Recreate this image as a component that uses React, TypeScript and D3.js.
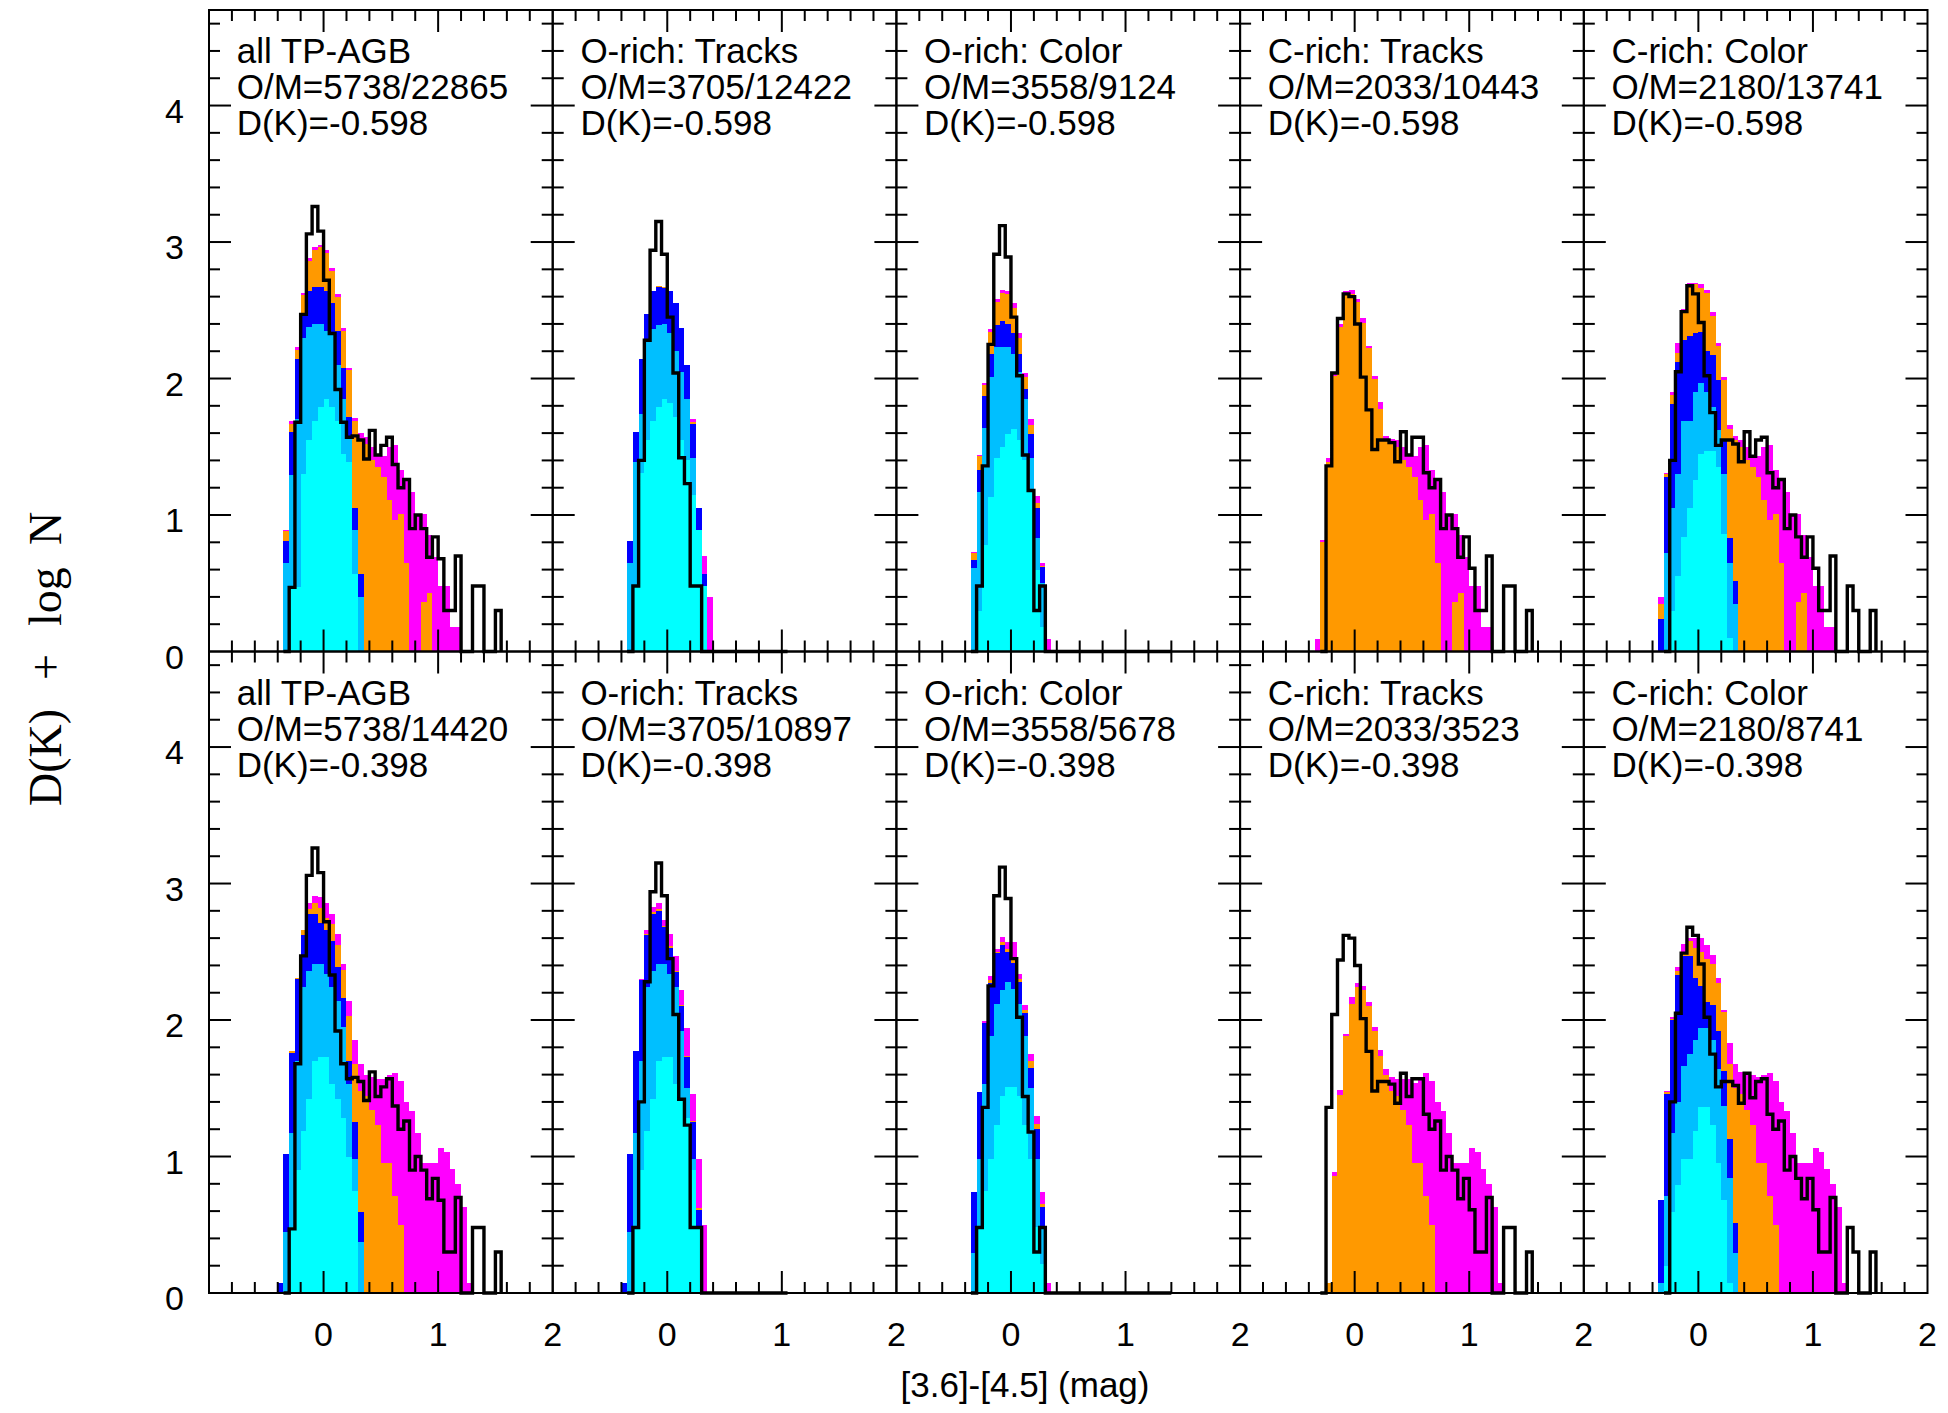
import React from 'react';
import * as d3 from 'd3';

// ---------------- layout ----------------
const W = 1948;
const H = 1413;
const LEFT = 209;
const TOP = 10;
const PW = 343.7;
const PH = 641.5;
const X_DOMAIN: [number, number] = [-1, 2];
const Y_DOMAIN: [number, number] = [0, 4.7];
const BIN = 0.05;
const LAYER_START = -0.4; // left edge of first bin of the coloured layers

// ---------------- text ----------------
const titles = ['all TP-AGB', 'O-rich: Tracks', 'O-rich: Color', 'C-rich: Tracks', 'C-rich: Color'];
const omTop = ['O/M=5738/22865', 'O/M=3705/12422', 'O/M=3558/9124', 'O/M=2033/10443', 'O/M=2180/13741'];
const omBottom = ['O/M=5738/14420', 'O/M=3705/10897', 'O/M=3558/5678', 'O/M=2033/3523', 'O/M=2180/8741'];
const dkTop = 'D(K)=-0.598';
const dkBottom = 'D(K)=-0.398';
const yTickLabels = [0, 1, 2, 3, 4];
const xTickLabels = [0, 1, 2];
const xAxisLabel = '[3.6]-[4.5] (mag)';

// ---------------- observed (black) histograms, one per column ----------------
const obsStart = [-0.35, -0.35, -0.35, -0.3, -0.3];
const obsAll = [0, 0.47, 1.68, 2.47, 3.06, 3.26, 3.08, 2.72, 2.33, 1.92, 1.68, 1.57, 1.58, 1.55, 1.41, 1.62, 1.44, 1.51, 1.57, 1.37, 1.2, 1.26, 0.9, 1.0, 0.9, 0.69, 0.84, 0.68, 0.3, 0.3, 0.7, 0, 0, 0.48, 0.48, 0, 0, 0.3];
const obsOTracks = [0, 0.48, 1.4, 2.28, 2.94, 3.15, 2.91, 2.45, 2.04, 1.42, 1.23, 0.48, 0.48, 0, 0, 0, 0, 0, 0, 0, 0, 0, 0, 0, 0, 0, 0, 0];
const obsOColor = [0, 0.48, 1.36, 2.25, 2.91, 3.12, 2.89, 2.45, 2.02, 1.44, 1.18, 0.3, 0.48, 0, 0, 0, 0, 0, 0, 0, 0, 0, 0, 0, 0, 0, 0, 0, 0, 0, 0, 0, 0, 0, 0];
const obsCTracks = [0, 1.36, 2.04, 2.44, 2.62, 2.6, 2.4, 2.01, 1.77, 1.48, 1.55, 1.55, 1.53, 1.39, 1.61, 1.44, 1.57, 1.57, 1.31, 1.2, 1.26, 0.9, 1.0, 0.9, 0.69, 0.84, 0.61, 0.3, 0.3, 0.7, 0, 0, 0.48, 0.48, 0, 0, 0.3];
const obsCColor = [0, 1.4, 2.05, 2.49, 2.68, 2.62, 2.41, 2.02, 1.75, 1.51, 1.55, 1.55, 1.52, 1.39, 1.61, 1.43, 1.55, 1.57, 1.31, 1.2, 1.26, 0.9, 1.0, 0.84, 0.69, 0.84, 0.61, 0.3, 0.3, 0.7, 0, 0, 0.48, 0.3, 0, 0, 0.3];
const observed = [obsAll, obsOTracks, obsOColor, obsCTracks, obsCColor];

// ---------------- model (coloured, cumulative) histograms ----------------
// top row
const t0Cyan = [0, 0, 0.47, 0.47, 1.3, 1.55, 1.69, 1.79, 1.85, 1.79, 1.69, 1.45, 1.39, 0.57];
const t0LBlue = [0, 0.65, 1.29, 1.7, 2.3, 2.38, 2.4, 2.4, 2.35, 2.33, 2.1, 1.85, 1.57, 0.89, 0.4];
const t0Blue = [0, 0.81, 1.61, 2.14, 2.47, 2.64, 2.67, 2.67, 2.64, 2.55, 2.35, 2.08, 1.72, 1.05, 0.57];
const t0Orange = [0, 0.88, 1.67, 2.21, 2.61, 2.86, 2.94, 2.96, 2.92, 2.79, 2.6, 2.35, 2.06, 1.69, 1.56, 1.52, 1.4, 1.35, 1.28, 1.11, 0.96, 1.01, 0.65, 0, 0, 0.36, 0.43];
const t0Magenta = [0, 0.89, 1.69, 2.23, 2.63, 2.88, 2.96, 2.98, 2.94, 2.81, 2.62, 2.37, 2.08, 1.71, 1.6, 1.57, 1.5, 1.43, 1.43, 1.5, 1.51, 1.33, 1.25, 1.17, 1.01, 1.01, 0.85, 0.69, 0.48, 0.48, 0.18, 0.18];

const t1Cyan = [0, 0, 0.47, 1.31, 1.55, 1.69, 1.79, 1.85, 1.82, 1.72, 1.55, 1.4, 1.15, 0.89, 0.48];
const t1LBlue = [0, 0.65, 1.39, 1.74, 2.28, 2.36, 2.39, 2.4, 2.33, 2.2, 2.05, 1.85, 1.42, 0.87, 0.4];
const t1Blue = [0, 0.81, 1.61, 2.14, 2.47, 2.64, 2.67, 2.66, 2.64, 2.55, 2.37, 2.1, 1.67, 1.05, 0.57];
const t1Orange = [0, 0.81, 1.61, 2.14, 2.47, 2.64, 2.68, 2.67, 2.64, 2.55, 2.37, 2.1, 1.68, 1.05, 0.57];
const t1Magenta = [0, 0.81, 1.61, 2.14, 2.47, 2.64, 2.68, 2.67, 2.64, 2.55, 2.37, 2.1, 1.7, 1.05, 0.7, 0.4];

const t2Cyan = [0, 0, 0.3, 0.78, 1.13, 1.42, 1.5, 1.59, 1.63, 1.55, 1.4, 1.18, 0.6, 0.18];
const t2LBlue = [0, 0.61, 1.17, 1.64, 2.01, 2.23, 2.23, 2.23, 2.18, 2.05, 1.85, 1.42, 0.83, 0.5];
const t2Blue = [0, 0.67, 1.33, 1.87, 2.18, 2.39, 2.42, 2.4, 2.33, 2.18, 1.92, 1.59, 1.05, 0.62];
const t2Orange = [0, 0.72, 1.43, 1.95, 2.34, 2.56, 2.63, 2.62, 2.52, 2.3, 2.01, 1.66, 1.09, 0.63];
const t2Magenta = [0, 0.73, 1.44, 1.97, 2.36, 2.58, 2.65, 2.64, 2.55, 2.33, 2.04, 1.7, 1.14, 0.65, 0.09];

const t3Orange = [0, 0, 0.8, 1.39, 2.02, 2.38, 2.61, 2.62, 2.56, 2.41, 2.22, 2.0, 1.78, 1.56, 1.53, 1.5, 1.4, 1.35, 1.28, 1.11, 0.96, 1.01, 0.65, 0, 0, 0.36, 0.43];
const t3Magenta = [0, 0.09, 0.82, 1.42, 2.05, 2.4, 2.64, 2.65, 2.58, 2.44, 2.24, 2.02, 1.83, 1.58, 1.56, 1.55, 1.5, 1.43, 1.43, 1.5, 1.51, 1.33, 1.25, 1.17, 1.01, 1.01, 0.85, 0.69, 0.48, 0.48, 0.18, 0.18];

const t4Cyan = [0, 0, 0, 0.3, 0.55, 0.84, 1.05, 1.26, 1.45, 1.47, 1.47, 1.35, 0.86, 0.1];
const t4LBlue = [0, 0, 0.72, 1.05, 1.3, 1.69, 1.69, 1.9, 1.97, 1.9, 1.79, 1.62, 1.3, 0.65, 0.35];
const t4Blue = [0, 0.24, 1.28, 1.81, 2.12, 2.28, 2.31, 2.33, 2.34, 2.2, 2.17, 1.99, 1.55, 0.83, 0.52];
const t4Orange = [0, 0.35, 1.3, 1.88, 2.19, 2.49, 2.69, 2.69, 2.66, 2.63, 2.46, 2.24, 1.99, 1.63, 1.55, 1.5, 1.4, 1.35, 1.28, 1.11, 0.96, 1.01, 0.65, 0, 0, 0.36, 0.43];
const t4Magenta = [0, 0.4, 1.31, 1.9, 2.26, 2.51, 2.7, 2.7, 2.69, 2.65, 2.49, 2.26, 2.01, 1.66, 1.58, 1.55, 1.5, 1.43, 1.43, 1.5, 1.51, 1.33, 1.25, 1.17, 1.01, 1.01, 0.85, 0.69, 0.48, 0.48, 0.18, 0.18];

// bottom row
const b0Cyan = [0, 0, 0.48, 0.9, 1.19, 1.42, 1.7, 1.73, 1.73, 1.53, 1.42, 1.28, 1.0, 0.75];
const b0LBlue = [0, 0.45, 1.17, 1.7, 2.24, 2.36, 2.41, 2.41, 2.34, 2.24, 2.14, 1.95, 1.53, 0.98, 0.37];
const b0Blue = [0.07, 1.02, 1.76, 2.3, 2.62, 2.78, 2.78, 2.71, 2.66, 2.58, 2.39, 2.16, 1.7, 1.25, 0.59];
const b0Orange = [0.07, 1.02, 1.77, 2.31, 2.66, 2.81, 2.86, 2.82, 2.75, 2.7, 2.55, 2.37, 2.03, 1.68, 1.48, 1.44, 1.34, 1.23, 0.95, 0.95, 0.71, 0.5];
const b0Magenta = [0.07, 1.02, 1.77, 2.31, 2.66, 2.86, 2.91, 2.9, 2.86, 2.78, 2.63, 2.41, 2.14, 1.85, 1.68, 1.6, 1.58, 1.57, 1.57, 1.6, 1.61, 1.55, 1.4, 1.33, 1.17, 0.95, 0.95, 0.95, 1.06, 1.03, 0.91, 0.8, 0.63, 0.07];

const b1Cyan = [0, 0, 0.48, 0.9, 1.19, 1.42, 1.7, 1.73, 1.73, 1.53, 1.42, 1.28, 0.9, 0.48];
const b1LBlue = [0, 0.45, 1.17, 1.7, 2.24, 2.36, 2.41, 2.41, 2.34, 2.24, 1.92, 1.5, 0.98, 0.45];
const b1Blue = [0.07, 1.02, 1.77, 2.29, 2.62, 2.78, 2.8, 2.68, 2.53, 2.35, 2.1, 1.73, 1.25, 0.61];
const b1Orange = [0.07, 1.02, 1.77, 2.29, 2.63, 2.79, 2.81, 2.69, 2.54, 2.36, 2.11, 1.74, 1.26, 0.62];
const b1Magenta = [0.07, 1.02, 1.77, 2.3, 2.66, 2.83, 2.86, 2.73, 2.63, 2.47, 2.22, 1.94, 1.46, 0.98, 0.5];

const b2Cyan = [0, 0, 0.48, 0.75, 0.98, 1.23, 1.44, 1.51, 1.51, 1.44, 1.23, 0.98, 0.48, 0.21];
const b2LBlue = [0, 0.29, 0.98, 1.53, 1.88, 2.12, 2.22, 2.28, 2.23, 2.12, 1.88, 1.5, 0.98, 0.48];
const b2Blue = [0, 0.74, 1.47, 1.98, 2.27, 2.49, 2.55, 2.5, 2.42, 2.28, 2.05, 1.65, 1.2, 0.63];
const b2Orange = [0, 0.74, 1.47, 1.98, 2.29, 2.5, 2.57, 2.52, 2.45, 2.3, 2.07, 1.7, 1.24, 0.65];
const b2Magenta = [0, 0.74, 1.47, 1.99, 2.32, 2.52, 2.61, 2.57, 2.57, 2.34, 2.11, 1.75, 1.3, 0.74, 0.07];

const b3Orange = [0, 0, 0, 0.07, 0.86, 1.45, 1.88, 2.12, 2.24, 2.22, 2.1, 1.92, 1.74, 1.6, 1.48, 1.44, 1.34, 1.23, 0.95, 0.95, 0.71, 0.5];
const b3Magenta = [0, 0, 0, 0.07, 0.89, 1.49, 1.9, 2.17, 2.27, 2.25, 2.13, 1.95, 1.78, 1.64, 1.58, 1.57, 1.57, 1.57, 1.54, 1.58, 1.61, 1.55, 1.4, 1.33, 1.17, 0.95, 0.95, 0.95, 1.06, 1.03, 0.91, 0.8, 0.63, 0.07];

const b4Cyan = [0, 0, 0.2, 0.59, 0.79, 0.98, 0.98, 1.19, 1.36, 1.36, 1.23, 0.95, 0.68, 0.07];
const b4LBlue = [0, 0.07, 0.71, 1.17, 1.4, 1.66, 1.75, 1.85, 1.94, 1.94, 1.85, 1.64, 1.37, 0.84, 0.29];
const b4Blue = [0, 0.68, 1.46, 2.0, 2.33, 2.47, 2.47, 2.31, 2.25, 2.13, 2.11, 1.92, 1.63, 1.13, 0.51];
const b4Orange = [0, 0.68, 1.47, 2.01, 2.36, 2.49, 2.58, 2.53, 2.5, 2.45, 2.41, 2.27, 2.06, 1.68, 1.5, 1.46, 1.34, 1.23, 0.95, 0.95, 0.71, 0.5];
const b4Magenta = [0, 0.68, 1.48, 2.02, 2.39, 2.56, 2.6, 2.6, 2.6, 2.55, 2.48, 2.31, 2.07, 1.83, 1.68, 1.62, 1.6, 1.6, 1.58, 1.6, 1.61, 1.55, 1.4, 1.33, 1.17, 0.95, 0.95, 0.95, 1.06, 1.03, 0.91, 0.8, 0.63, 0.07];

const layerColors = ['#FF00FF', '#FF9900', '#0000FF', '#00BFFF', '#00FFFF'];

type Panel = { row: number; col: number; lines: string[]; layers: number[][] };

const panels: Panel[] = [
  { row: 0, col: 0, lines: [titles[0], omTop[0], dkTop], layers: [t0Magenta, t0Orange, t0Blue, t0LBlue, t0Cyan] },
  { row: 0, col: 1, lines: [titles[1], omTop[1], dkTop], layers: [t1Magenta, t1Orange, t1Blue, t1LBlue, t1Cyan] },
  { row: 0, col: 2, lines: [titles[2], omTop[2], dkTop], layers: [t2Magenta, t2Orange, t2Blue, t2LBlue, t2Cyan] },
  { row: 0, col: 3, lines: [titles[3], omTop[3], dkTop], layers: [t3Magenta, t3Orange, [], [], []] },
  { row: 0, col: 4, lines: [titles[4], omTop[4], dkTop], layers: [t4Magenta, t4Orange, t4Blue, t4LBlue, t4Cyan] },
  { row: 1, col: 0, lines: [titles[0], omBottom[0], dkBottom], layers: [b0Magenta, b0Orange, b0Blue, b0LBlue, b0Cyan] },
  { row: 1, col: 1, lines: [titles[1], omBottom[1], dkBottom], layers: [b1Magenta, b1Orange, b1Blue, b1LBlue, b1Cyan] },
  { row: 1, col: 2, lines: [titles[2], omBottom[2], dkBottom], layers: [b2Magenta, b2Orange, b2Blue, b2LBlue, b2Cyan] },
  { row: 1, col: 3, lines: [titles[3], omBottom[3], dkBottom], layers: [b3Magenta, b3Orange, [], [], []] },
  { row: 1, col: 4, lines: [titles[4], omBottom[4], dkBottom], layers: [b4Magenta, b4Orange, b4Blue, b4LBlue, b4Cyan] },
];

const FONT = "'Liberation Sans', Arial, Helvetica, sans-serif";
const SERIF = "'Liberation Serif', 'Times New Roman', serif";

function stepPoints(start: number, vals: number[]): [number, number][] {
  const pts: [number, number][] = vals.map((v, i) => [start + i * BIN, v]);
  if (vals.length) pts.push([start + vals.length * BIN, vals[vals.length - 1]]);
  return pts;
}

function PanelView({ p }: { p: Panel }) {
  const x0 = LEFT + p.col * PW;
  const y0 = TOP + p.row * PH;
  const xs = d3.scaleLinear().domain(X_DOMAIN).range([x0, x0 + PW]);
  const ys = d3.scaleLinear().domain(Y_DOMAIN).range([y0 + PH, y0]);

  const area = d3
    .area<[number, number]>()
    .x((d) => xs(d[0]))
    .y0(ys(0))
    .y1((d) => ys(d[1]))
    .curve(d3.curveStepAfter);

  const obs = observed[p.col];
  const obsPts = stepPoints(obsStart[p.col], obs);
  obsPts.push([obsStart[p.col] + obs.length * BIN, 0]);
  const line = d3
    .line<[number, number]>()
    .x((d) => xs(d[0]))
    .y((d) => ys(d[1]))
    .curve(d3.curveStepAfter);

  const xMinor = d3.range(-0.8, 1.9, 0.2).map((v) => Math.round(v * 10) / 10);
  const yMinor = d3.range(0.2, 4.65, 0.2).map((v) => Math.round(v * 10) / 10);
  const isInt = (v: number) => Math.abs(v - Math.round(v)) < 1e-6;

  const ticks: JSX.Element[] = [];
  xMinor.forEach((v, i) => {
    const len = isInt(v) ? 22 : 11;
    const x = xs(v);
    ticks.push(<line key={'xb' + i} x1={x} x2={x} y1={y0 + PH} y2={y0 + PH - len} />);
    ticks.push(<line key={'xt' + i} x1={x} x2={x} y1={y0} y2={y0 + len} />);
  });
  yMinor.forEach((v, i) => {
    const len = isInt(v) ? 22 : 11;
    const y = ys(v);
    ticks.push(<line key={'yl' + i} x1={x0} x2={x0 + len} y1={y} y2={y} />);
    ticks.push(<line key={'yr' + i} x1={x0 + PW} x2={x0 + PW - len} y1={y} y2={y} />);
  });

  return (
    <g>
      {p.layers.map((vals, li) =>
        vals.length ? (
          <path
            key={li}
            d={area(stepPoints(LAYER_START, vals)) || ''}
            fill={layerColors[li]}
            stroke="none"
            shapeRendering="crispEdges"
          />
        ) : null
      )}
      <path d={line(obsPts) || ''} fill="none" stroke="#000" strokeWidth={3.4} strokeLinejoin="miter" />
      <rect x={x0} y={y0} width={PW} height={PH} fill="none" stroke="#000" strokeWidth={2} />
      <g stroke="#000" strokeWidth={2}>{ticks}</g>
      <g fontFamily={FONT} fontSize={35} fill="#000">
        {p.lines.map((t, i) => (
          <text key={i} x={x0 + 27.7} y={y0 + 53 + i * 36}>
            {t}
          </text>
        ))}
      </g>
    </g>
  );
}

export default function App() {
  const rows = [0, 1];
  const cols = [0, 1, 2, 3, 4];
  return (
    <svg
      width={W}
      height={H}
      viewBox={`0 0 ${W} ${H}`}
      style={{ position: 'absolute', left: 0, top: 0, background: '#fff' }}
    >
      <rect x={0} y={0} width={W} height={H} fill="#fff" />
      {panels.map((p, i) => (
        <PanelView key={i} p={p} />
      ))}
      {/* y tick labels */}
      <g fontFamily={FONT} fontSize={34} fill="#000" textAnchor="end">
        {rows.map((r) => {
          const ys = d3.scaleLinear().domain(Y_DOMAIN).range([TOP + (r + 1) * PH, TOP + r * PH]);
          return yTickLabels.map((v) => (
            <text key={r + '-' + v} x={184} y={ys(v) + 17}>
              {v}
            </text>
          ));
        })}
      </g>
      {/* x tick labels */}
      <g fontFamily={FONT} fontSize={34} fill="#000" textAnchor="middle">
        {cols.map((c) => {
          const xs = d3.scaleLinear().domain(X_DOMAIN).range([LEFT + c * PW, LEFT + (c + 1) * PW]);
          return xTickLabels.map((v) => (
            <text key={c + '-' + v} x={xs(v)} y={1346}>
              {v}
            </text>
          ));
        })}
      </g>
      <text x={1025} y={1397} fontFamily={FONT} fontSize={35} textAnchor="middle" fill="#000">
        {xAxisLabel}
      </text>
      <g fontFamily={SERIF} fontSize={46} fill="#000">
        <text transform="translate(61,806) rotate(-90)">D(K)</text>
        <text transform="translate(61,680) rotate(-90)">+</text>
        <text transform="translate(61,626) rotate(-90)">log</text>
        <text transform="translate(61,545) rotate(-90)">N</text>
      </g>
    </svg>
  );
}
